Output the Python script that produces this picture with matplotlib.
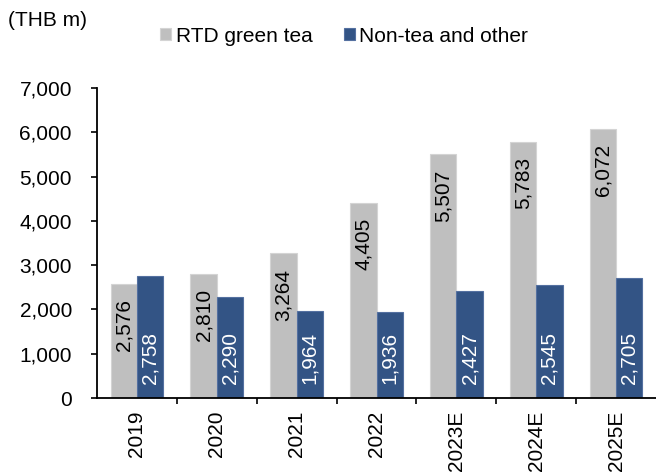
import matplotlib
matplotlib.use("Agg")
import matplotlib.pyplot as plt
import numpy as np
from matplotlib.ticker import FuncFormatter, FixedLocator

categories = ["2019", "2020", "2021", "2022", "2023E", "2024E", "2025E"]
rtd_green_tea = [2576, 2810, 3264, 4405, 5507, 5783, 6072]
non_tea_other = [2758, 2290, 1964, 1936, 2427, 2545, 2705]
series_names = ["RTD green tea", "Non-tea and other"]
yticks = [0, 1000, 2000, 3000, 4000, 5000, 6000, 7000]

plt.rcParams['font.family'] = ['Liberation Sans', 'DejaVu Sans']
FS = 15

fig = plt.figure(figsize=(6.56, 4.75), dpi=100)
ax = fig.add_axes([97/656, 1-398/475, 1-97/656, (398-88)/475])

x = np.arange(len(categories))
w = 0.33
grey = "#BFBFBF"
blue = "#335485"
b1 = ax.bar(x - w/2, rtd_green_tea, w, color=grey, edgecolor="#D4D4D4", linewidth=0.8, label=series_names[0])
b2 = ax.bar(x + w/2, non_tea_other, w, color=blue, edgecolor="#5470A0", linewidth=0.8, label=series_names[1])

for xi, v in zip(x, rtd_green_tea):
    ax.annotate(f"{v:,}", xy=(xi - w/2, v), xytext=(0, -11), textcoords="offset points",
                ha="center", va="top", rotation=90, fontsize=FS, color="black")
for xi, v in zip(x, non_tea_other):
    ax.annotate(f"{v:,}", xy=(xi + w/2, 0), xytext=(0, 10), textcoords="offset points",
                ha="center", va="bottom", rotation=90, fontsize=FS, color="white")

ax.set_xlim(-0.5, len(categories) - 0.5)
ax.set_ylim(0, 7000)
ax.set_yticks(yticks)
ax.yaxis.set_major_formatter(FuncFormatter(lambda v, p: f"{int(v):,}"))
ax.tick_params(axis="y", direction="out", length=4, width=1.2, pad=14, labelsize=FS)

ax.set_xticks(x)
ax.set_xticklabels(categories, rotation=90, fontsize=FS)
ax.tick_params(axis="x", which="major", length=0, pad=9)
ax.xaxis.set_minor_locator(FixedLocator(np.arange(0.5, len(categories) - 0.5, 1.0)))
ax.tick_params(axis="x", which="minor", direction="out", length=4, width=1.2)

for s in ["top", "right"]:
    ax.spines[s].set_visible(False)
for s in ["left", "bottom"]:
    ax.spines[s].set_linewidth(1.3)

fig.text(8/656, 1-21/475, "(THB m)", fontsize=FS, ha="left", va="center")

leg = fig.legend(handles=[b1, b2], labels=series_names, loc="center left",
                 bbox_to_anchor=(160/656, 1-36/475), ncol=2, frameon=False, fontsize=FS,
                 handlelength=0.55, handleheight=0.55, handletextpad=0.2, columnspacing=1.5,
                 borderpad=0, borderaxespad=0)

fig.savefig("out.png", dpi=100)
